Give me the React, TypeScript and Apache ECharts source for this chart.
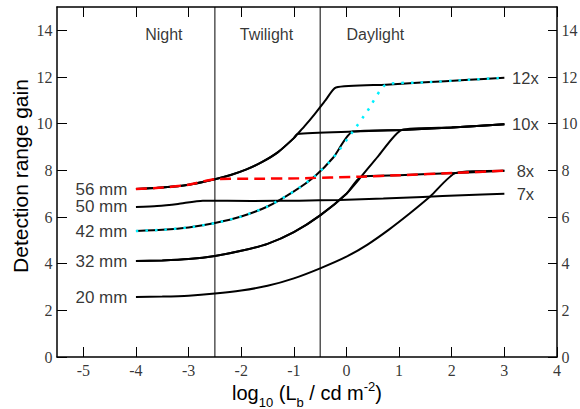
import React, { useEffect, useRef } from 'react';
import * as echarts from 'echarts';

// ---- tick values ----
const xTicks = [-5, -4, -3, -2, -1, 0, 1, 2, 3, 4];
const yTicks = [0, 2, 4, 6, 8, 10, 12, 14];

// ---- lighting regions ----
const regionNames = ['Night', 'Twilight', 'Daylight'];
const regionX = [-3.47, -1.52, 0.55];
const regionY = 13.83;
const boundaries = [-2.5, -0.5];

// ---- objective-aperture curves [log10 Lb, gain] ----
const apertureNames = ['56 mm', '50 mm', '42 mm', '32 mm', '20 mm'];
const c56 = [[-4, 7.2], [-3.5, 7.26], [-3, 7.38], [-2.5, 7.62], [-2.2, 7.8], [-1.9, 8.04], [-1.6, 8.36], [-1.3, 8.78], [-1, 9.38], [-0.93, 9.56], [-0.8, 9.88], [-0.6, 10.42], [-0.4, 11.0], [-0.2, 11.55]];
const c50 = [[-4, 6.43], [-3.6, 6.47], [-3.2, 6.56], [-2.73, 6.7]];
const c42 = [[-4, 5.4], [-3.5, 5.45], [-3, 5.55], [-2.5, 5.74], [-2, 6.02], [-1.5, 6.45], [-1, 7.1], [-0.6, 7.75], [-0.25, 8.55], [0.12, 9.66], [0.4, 10.55], [0.75, 11.67]];
const c32 = [[-4, 4.11], [-3.5, 4.14], [-3, 4.2], [-2.5, 4.33], [-2, 4.55], [-1.5, 4.85], [-1, 5.35], [-0.5, 6.07], [0, 7.0], [0.28, 7.73], [0.6, 8.6], [1.05, 9.73]];
const c20 = [[-4, 2.57], [-3.5, 2.59], [-3, 2.63], [-2.5, 2.72], [-2, 2.85], [-1.5, 3.05], [-1, 3.37], [-0.5, 3.8], [0, 4.3], [0.4, 4.82], [0.8, 5.45], [1.2, 6.15], [1.6, 6.9], [2.08, 7.89]];

// ---- magnification limits ----
const magNames = ['12x', '10x', '8x', '7x'];
const m12 = [[-0.2, 11.55], [0.75, 11.67], [1.5, 11.77], [2.25, 11.87], [3, 11.97]];
const m10 = [[-0.93, 9.56], [0.12, 9.66], [1.05, 9.73], [2.0, 9.84], [3, 9.97]];
const m8 = [[-2.5, 7.62], [-1.7, 7.64], [-0.9, 7.66], [0.28, 7.73], [1.0, 7.79], [2.08, 7.89], [3, 7.98]];
const m7 = [[-2.73, 6.7], [-1.8, 6.69], [-0.9, 6.7], [-0.13, 6.73], [0.7, 6.79], [1.45, 6.86], [2.2, 6.93], [3, 7.0]];

const X_MIN = -5.5;
const X_MAX = 4;
const Y_MIN = 0;
const Y_MAX = 15;

// curve up to the join, then the magnification limit
function branch(curve: number[][], limit: number[][], join: number) {
  return curve.filter((p) => p[0] <= join).concat(limit.filter((p) => p[0] > join));
}

const SANS = 'Liberation Sans';
const SERIF = 'Liberation Serif';

export default function App() {
  const ref = useRef<HTMLDivElement>(null);
  useEffect(() => {
    if (!ref.current) return;
    const chart = echarts.init(ref.current, undefined, { renderer: 'svg' });

    const blackBranches = [
      branch(c56, m12, -0.2),
      branch(c56, m10, -0.93),
      branch(c50, m7, -2.73),
      branch(c42, m10, 0.12),
      branch(c32, m10, 1.05),
      branch(c32, m8, 0.28),
      branch(c20, m8, 2.08),
    ];
    const redBranch = branch(c56, m8, -2.5);
    const cyanBranch = branch(c42, m12, 0.75);

    const lineBase = {
      type: 'line',
      showSymbol: false,
      symbol: 'none',
      smooth: 0.2,
      silent: true,
    };

    const series: any[] = [];
    boundaries.forEach((b) => {
      series.push({
        type: 'line',
        symbol: 'none',
        silent: true,
        data: [[b, Y_MIN], [b, Y_MAX]],
        lineStyle: { color: '#000', width: 1 },
        z: 1,
      });
    });
    blackBranches.forEach((d) => {
      series.push({ ...lineBase, data: d, lineStyle: { color: '#000', width: 2 }, z: 2 });
    });
    series.push({ ...lineBase, data: redBranch, lineStyle: { color: '#ff0000', width: 2.5, type: [11, 6] }, z: 3 });
    series.push({ ...lineBase, data: cyanBranch, lineStyle: { color: '#00f0ff', width: 2.5, type: [2.5, 7] }, z: 4 });

    const textScatter = (data: any[], label: any) => ({
      type: 'scatter',
      silent: true,
      clip: false,
      symbolSize: 1,
      itemStyle: { color: 'rgba(0,0,0,0)' },
      data,
      label: { show: true, formatter: (p: any) => p.name, color: '#000', ...label },
      z: 5,
    });

    const curves = [c56, c50, c42, c32, c20];
    series.push(textScatter(
      curves.map((c, i) => ({ value: c[0], name: apertureNames[i] })),
      { position: 'left', distance: 8, fontFamily: SANS, fontSize: 17 },
    ));
    const mags = [m12, m10, m8, m7];
    series.push(textScatter(
      mags.map((m, i) => ({ value: m[m.length - 1], name: magNames[i] })),
      { position: 'inside', offset: [21, 0], fontFamily: SANS, fontSize: 16.5 },
    ));
    series.push(textScatter(
      regionNames.map((n, i) => ({ value: [regionX[i], regionY], name: n })),
      { position: 'inside', fontFamily: SANS, fontSize: 16 },
    ));
    // tick labels (serif), placed through the axes' scales
    series.push(textScatter(
      xTicks.map((v) => ({ value: [v, Y_MIN], name: String(v) })),
      { position: 'bottom', distance: 5, fontFamily: SERIF, fontSize: 16 },
    ));
    series.push(textScatter(
      yTicks.map((v) => ({ value: [X_MIN, v], name: String(v) })),
      { position: 'left', distance: 4, fontFamily: SERIF, fontSize: 16 },
    ));
    series.push(textScatter(
      yTicks.map((v) => ({ value: [X_MAX, v], name: String(v) })),
      { position: 'right', distance: 4, fontFamily: SERIF, fontSize: 16 },
    ));

    const axisLine = { show: true, onZero: false, lineStyle: { color: '#000', width: 1.5 } };
    const tickStyle = { color: '#000', width: 1 };

    const option: any = {
      animation: false,
      backgroundColor: '#fff',
      grid: { left: 57, right: 23, top: 7, bottom: 52, outerBoundsMode: 'none', containLabel: false },
      xAxis: [
        {
          type: 'value', min: X_MIN, max: X_MAX, position: 'bottom',
          axisLine,
          axisTick: { show: true, inside: true, length: 10, customValues: xTicks, lineStyle: tickStyle },
          axisLabel: { show: false },
          splitLine: { show: false },
        },
        {
          type: 'value', min: X_MIN, max: X_MAX, position: 'top',
          axisLine,
          axisTick: { show: true, inside: true, length: 10, customValues: xTicks, lineStyle: tickStyle },
          axisLabel: { show: false },
          splitLine: { show: false },
        },
      ],
      yAxis: [
        {
          type: 'value', min: Y_MIN, max: Y_MAX, position: 'left',
          axisLine,
          axisTick: { show: true, inside: true, length: 10, customValues: yTicks, lineStyle: tickStyle },
          axisLabel: { show: false },
          splitLine: { show: false },
        },
        {
          type: 'value', min: Y_MIN, max: Y_MAX, position: 'right',
          axisLine,
          axisTick: { show: true, inside: true, length: 9, customValues: yTicks, lineStyle: tickStyle },
          axisLabel: { show: false },
          splitLine: { show: false },
        },
      ],
      graphic: [
        {
          type: 'text',
          x: 20,
          y: 176,
          rotation: Math.PI / 2,
          silent: true,
          style: {
            text: 'Detection range gain',
            fontFamily: SANS,
            fontSize: 21,
            fill: '#000',
            align: 'center',
            verticalAlign: 'middle',
          },
        },
        {
          type: 'text',
          x: 307,
          y: 377,
          silent: true,
          style: {
            text: '{n|log}{s|10}{n| (L}{s|b}{n| / cd m}{p|-2}{n|)}',
            align: 'center',
            verticalAlign: 'top',
            fill: '#000',
            rich: {
              n: { fontSize: 20, fontFamily: SANS, lineHeight: 32, verticalAlign: 'middle', fill: '#000' },
              s: { fontSize: 13, fontFamily: SANS, lineHeight: 13, verticalAlign: 'bottom', fill: '#000' },
              p: { fontSize: 13, fontFamily: SANS, lineHeight: 13, verticalAlign: 'top', padding: [3, 0, 0, 0], fill: '#000' },
            },
          },
        },
      ],
      series,
    };
    chart.setOption(option);
    return () => chart.dispose();
  }, []);

  return (
    <div
      ref={ref}
      style={{ position: 'fixed', left: 0, top: 0, width: 580, height: 409, background: '#fff' }}
    />
  );
}
